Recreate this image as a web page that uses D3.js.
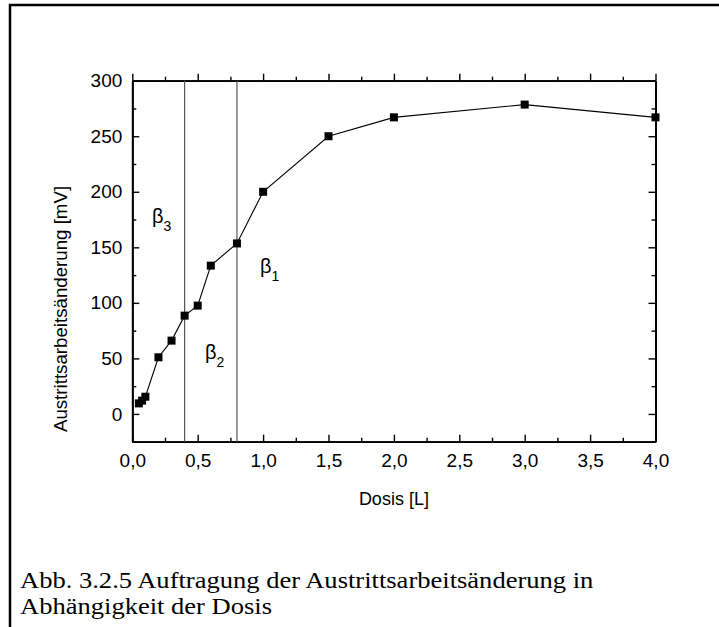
<!DOCTYPE html>
<html>
<head>
<meta charset="utf-8">
<script src="https://cdn.jsdelivr.net/npm/d3@7"></script>
<style>
  html, body { margin: 0; padding: 0; background: #fff; }
  svg { display: block; }
  .tick text { font-family: Arial, "Liberation Sans", sans-serif; font-size: 19px; fill: #000; }
</style>
</head>
<body>
<svg id="chart" width="719" height="627"></svg>
<script>
// Dose (Langmuir) and work-function change (mV)
const dose = [0.05, 0.075, 0.1, 0.2, 0.3, 0.4, 0.5, 0.6, 0.8, 1.0, 1.5, 2.0, 3.0, 4.0];
const deltaPhi = [9.5, 12, 15.5, 51, 66, 88.5, 97.5, 133.5, 153.5, 200, 250, 267, 278.5, 267];

// Phase boundaries marked by vertical lines
const boundaries = [0.4, 0.8];

// Phase labels: name, subscript, anchor in data units
const phaseNames = ["β", "β", "β"];
const phaseSubs = ["3", "2", "1"];
const phaseX = [0.15, 0.556, 0.976];
const phaseY = [172, 49.5, 127];

// Tick values
const xMajor = [0, 0.5, 1.0, 1.5, 2.0, 2.5, 3.0, 3.5, 4.0];
const xMinor = [0.25, 0.75, 1.25, 1.75, 2.25, 2.75, 3.25, 3.75];
const yMajor = [0, 50, 100, 150, 200, 250, 300];
const yMinor = [-25, 25, 75, 125, 175, 225, 275];

const xTitle = "Dosis [L]";
const yTitle = "Austrittsarbeitsänderung [mV]";
const captionLines = [
  "Abb. 3.2.5 Auftragung der Austrittsarbeitsänderung in",
  "Abhängigkeit der Dosis"
];

const svg = d3.select("#chart");
const W = 719, H = 627;
const plot = { left: 132.3, right: 655.5, top: 80.7, bottom: 441.7 };

const x = d3.scaleLinear().domain([0, 4]).range([plot.left, plot.right]);
const y = d3.scaleLinear().domain([-25, 300]).range([plot.bottom, plot.top]);

const fmtX = d => d3.format(".1f")(d).replace(".", ",");
const fmtY = d3.format("d");
const font = "Arial, 'Liberation Sans', sans-serif";

// Frame around the figure (top and left edges)
svg.append("path")
  .attr("d", `M10,${H} L10,5 L${W},5`)
  .attr("fill", "none")
  .attr("stroke", "#000")
  .attr("stroke-width", 2.5);

// Axes: major and minor ticks on all four sides
function styleAxis(g) {
  g.select(".domain").attr("stroke", "#000").attr("stroke-width", 1.8);
  g.selectAll(".tick line").attr("stroke", "#000").attr("stroke-width", 1.4);
}

svg.append("g").attr("transform", `translate(0,${plot.bottom})`)
  .call(d3.axisBottom(x).tickValues(xMajor).tickFormat(fmtX).tickSizeInner(-7).tickSizeOuter(0).tickPadding(12))
  .call(styleAxis);
svg.append("g").attr("transform", `translate(0,${plot.bottom})`)
  .call(d3.axisBottom(x).tickValues(xMinor).tickFormat("").tickSizeInner(-4).tickSizeOuter(0))
  .call(styleAxis);

svg.append("g").attr("transform", `translate(0,${plot.top})`)
  .call(d3.axisTop(x).tickValues(xMajor).tickFormat("").tickSizeInner(7).tickSizeOuter(0))
  .call(styleAxis);
svg.append("g").attr("transform", `translate(0,${plot.top})`)
  .call(d3.axisTop(x).tickValues(xMinor).tickFormat("").tickSizeInner(4).tickSizeOuter(0))
  .call(styleAxis);

svg.append("g").attr("transform", `translate(${plot.left},0)`)
  .call(d3.axisLeft(y).tickValues(yMajor).tickFormat(fmtY).tickSizeInner(-7).tickSizeOuter(0).tickPadding(10))
  .call(styleAxis);
svg.append("g").attr("transform", `translate(${plot.left},0)`)
  .call(d3.axisLeft(y).tickValues(yMinor).tickFormat("").tickSizeInner(-4).tickSizeOuter(0))
  .call(styleAxis);

svg.append("g").attr("transform", `translate(${plot.right},0)`)
  .call(d3.axisRight(y).tickValues(yMajor).tickFormat("").tickSizeInner(-7).tickSizeOuter(0))
  .call(styleAxis);
svg.append("g").attr("transform", `translate(${plot.right},0)`)
  .call(d3.axisRight(y).tickValues(yMinor).tickFormat("").tickSizeInner(-4).tickSizeOuter(0))
  .call(styleAxis);

// Phase boundary lines
svg.append("g").selectAll("line")
  .data(boundaries)
  .join("line")
  .attr("x1", d => x(d)).attr("x2", d => x(d))
  .attr("y1", plot.top).attr("y2", plot.bottom)
  .attr("stroke", "#555")
  .attr("stroke-width", 1.2);

// Data line and square markers
const pts = dose.map((d, i) => [d, deltaPhi[i]]);
svg.append("path")
  .datum(pts)
  .attr("fill", "none")
  .attr("stroke", "#000")
  .attr("stroke-width", 1.1)
  .attr("d", d3.line().x(d => x(d[0])).y(d => y(d[1])));

const ms = 8;
svg.append("g").selectAll("rect")
  .data(pts)
  .join("rect")
  .attr("x", d => x(d[0]) - ms / 2)
  .attr("y", d => y(d[1]) - ms / 2)
  .attr("width", ms).attr("height", ms)
  .attr("fill", "#000");

// Phase labels β with subscripts
const lab = svg.append("g").attr("font-family", font).attr("fill", "#000");
phaseNames.forEach((n, i) => {
  const t = lab.append("text")
    .attr("x", x(phaseX[i]))
    .attr("y", y(phaseY[i]))
    .attr("font-size", 20);
  t.append("tspan").text(n);
  t.append("tspan").attr("dy", 8).attr("font-size", 14).text(phaseSubs[i]);
});

// Axis titles
svg.append("text")
  .attr("x", (plot.left + plot.right) / 2)
  .attr("y", 505)
  .attr("text-anchor", "middle")
  .attr("font-family", font)
  .attr("font-size", 18)
  .text(xTitle);

svg.append("text")
  .attr("transform", `translate(67,309) rotate(-90)`)
  .attr("text-anchor", "middle")
  .attr("font-family", font)
  .attr("font-size", 18.7)
  .text(yTitle);

// Figure caption (set in a slightly widened serif face)
svg.append("g")
  .attr("transform", "translate(20,0) scale(1.18,1)")
  .selectAll("text")
  .data(captionLines)
  .join("text")
  .attr("x", 0)
  .attr("y", (d, i) => 588 + i * 26)
  .attr("font-family", "'Times New Roman', 'Liberation Serif', serif")
  .attr("font-size", 22.5)
  .attr("fill", "#000")
  .text(d => d);
</script>
</body>
</html>
